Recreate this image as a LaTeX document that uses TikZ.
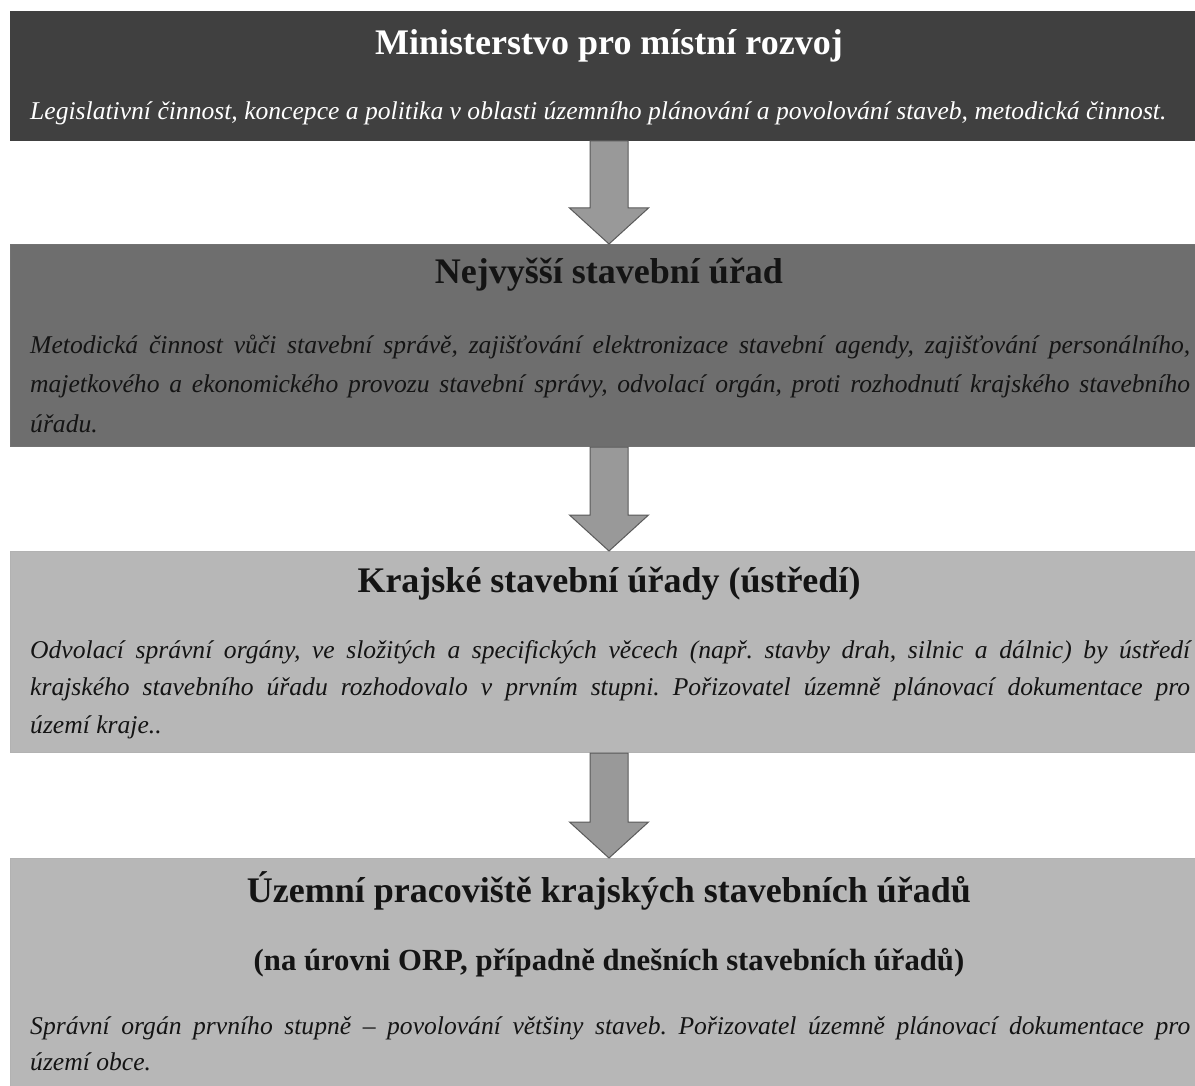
\documentclass[tikz,border=0pt]{standalone}
\usepackage{fontspec}
\setmainfont{Liberation Serif}
\usetikzlibrary{calc}
\definecolor{boxA}{HTML}{404040}
\definecolor{boxB}{HTML}{6E6E6E}
\definecolor{boxC}{HTML}{B7B7B7}
\definecolor{arrfill}{HTML}{999999}
\definecolor{arrdraw}{HTML}{5A5A5A}
\definecolor{txtdark}{HTML}{141414}
\hyphenpenalty=10000
\exhyphenpenalty=10000
\tolerance=10000
\hbadness=10000
\frenchspacing
\tikzset{
  panel/.style={rectangle, inner sep=0pt, minimum width=1185pt, anchor=north west, line width=1pt},
  titletext/.style={anchor=base, inner sep=0pt, font=\fontsize{36}{40}\selectfont\bfseries},
  subtitletext/.style={anchor=base, inner sep=0pt, font=\fontsize{30.7}{36}\selectfont\bfseries},
  bodyline/.style={anchor=base west, inner sep=0pt, font=\fontsize{25.6}{38}\selectfont\itshape},
  bodypara/.style={anchor=north west, inner sep=0pt, text width=1160pt, align=justify},
  barrow/.style={fill=arrfill, draw=arrdraw, line width=1pt, line join=miter},
}
\newcommand\blockarr[2]{%
  \path (axis |- #1.south) coordinate (s) (axis |- #2.north) coordinate (t);
  \draw[barrow] ($(s)+(-19,0)$) -- ($(t)+(-19,-36)$) -- ($(t)+(-39.5,-36)$) -- (t)
    -- ($(t)+(39.5,-36)$) -- ($(t)+(19,-36)$) -- ($(s)+(19,0)$) -- cycle;
}
\newcommand\firstline{\rule{0pt}{30pt}}
\begin{document}
\begin{tikzpicture}[x=1pt,y=-1pt]
\useasboundingbox[fill=white] (0,0) rectangle (1195,1086);
\coordinate (axis) at (609,0);

% panels
\node[panel, fill=boxA, draw=black!75, minimum height=129pt] (b1) at (10,11) {};
\node[panel, fill=boxB, draw=black!55, minimum height=202pt] (b2) at (10,244) {};
\node[panel, fill=boxC, draw=black!30, minimum height=201pt] (b3) at (10,551) {};
\node[panel, fill=boxC, draw=black!30, minimum height=240pt] (b4) at (10,858) {};

% arrows
\blockarr{b1}{b2}
\blockarr{b2}{b3}
\blockarr{b3}{b4}

% box 1
\node[titletext, text=white] (t1) at (609,55) {Ministerstvo pro místní rozvoj};
\node[bodyline, text=white] (d1) at (30,120) {Legislativní činnost, koncepce a politika v oblasti územního plánování a povolování staveb, metodická činnost.};

% box 2
\node[titletext, text=txtdark] (t2) at (609,284) {Nejvyšší stavební úřad};
\node[bodypara, text=txtdark, font=\fontsize{25.6}{39.5}\selectfont\itshape] (d2) at (30,323) {\firstline Metodická činnost vůči stavební správě, zajišťování elektronizace stavební agendy, zajišťování personálního,\linebreak majetkového a ekonomického provozu stavební správy, odvolací orgán, proti rozhodnutí krajského stavebního\linebreak úřadu.};

% box 3
\node[titletext, text=txtdark] (t3) at (609,592) {Krajské stavební úřady (ústředí)};
\node[bodypara, text=txtdark, font=\fontsize{25.6}{37.5}\selectfont\itshape] (d3) at (30,628) {\firstline Odvolací správní orgány, ve složitých a specifických věcech (např. stavby drah, silnic a dálnic) by ústředí\linebreak krajského stavebního úřadu rozhodovalo v prvním stupni. Pořizovatel územně plánovací dokumentace pro\linebreak území kraje..};

% box 4
\node[titletext, text=txtdark] (t4) at (609,902) {Územní pracoviště krajských stavebních úřadů};
\node[subtitletext, text=txtdark] (t4b) at (609,970) {(na úrovni ORP, případně dnešních stavebních úřadů)};
\node[bodypara, text=txtdark, font=\fontsize{25.6}{36.5}\selectfont\itshape] (d4) at (30,1004) {\firstline Správní orgán prvního stupně – povolování většiny staveb. Pořizovatel územně plánovací dokumentace pro\linebreak území obce.};
\end{tikzpicture}
\end{document}
